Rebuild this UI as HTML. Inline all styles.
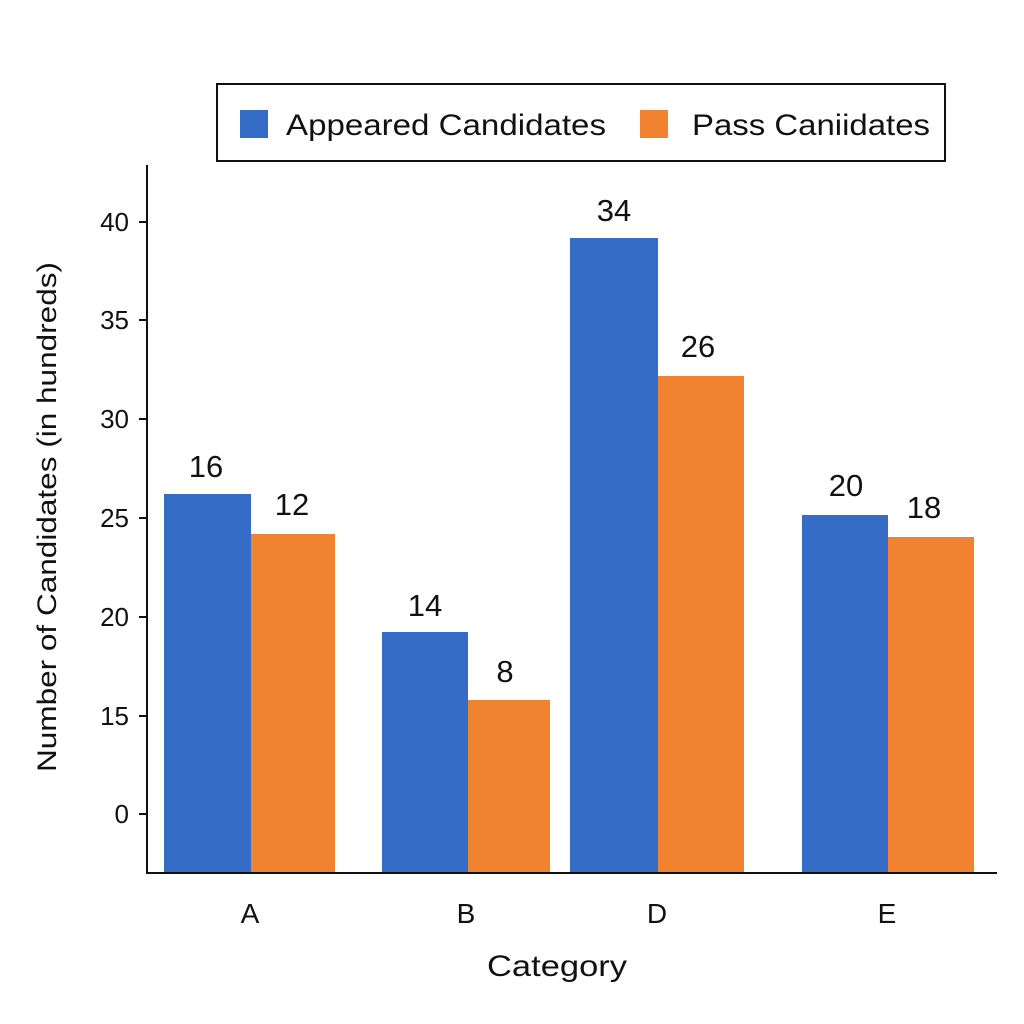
<!DOCTYPE html>
<html><head><meta charset="utf-8"><style>
html,body{margin:0;padding:0;background:#fff;}
svg{display:block;font-family:"Liberation Sans","DejaVu Sans",sans-serif;}
</style></head><body>
<svg width="1024" height="1024" viewBox="0 0 1024 1024" xmlns="http://www.w3.org/2000/svg">
<rect width="1024" height="1024" fill="#fff"/>
<rect x="217" y="84" width="728" height="77" fill="#fff" stroke="#111" stroke-width="2"/>
<rect x="240" y="110" width="28" height="28" fill="#356CC6"/>
<text x="286" y="135" font-size="30" fill="#111" textLength="320" lengthAdjust="spacingAndGlyphs">Appeared Candidates</text>
<rect x="640" y="110" width="28" height="28" fill="#F18230"/>
<text x="692" y="135" font-size="30" fill="#111" textLength="238" lengthAdjust="spacingAndGlyphs">Pass Caniidates</text>
<g fill="#356CC6">
<rect x="164" y="494" width="87" height="379"/>
<rect x="382" y="632" width="86" height="241"/>
<rect x="570" y="238" width="88" height="635"/>
<rect x="802" y="515" width="86" height="358"/>
</g>
<g fill="#F18230">
<rect x="251" y="534" width="84" height="339"/>
<rect x="468" y="700" width="82" height="173"/>
<rect x="658" y="376" width="86" height="497"/>
<rect x="888" y="537" width="86" height="336"/>
</g>
<line x1="147" y1="165" x2="147" y2="874" stroke="#111" stroke-width="2"/>
<line x1="146" y1="873" x2="997" y2="873" stroke="#111" stroke-width="2"/>
<g stroke="#111" stroke-width="2">
<line x1="139" y1="222" x2="147" y2="222"/><line x1="139" y1="320" x2="147" y2="320"/>
<line x1="139" y1="419" x2="147" y2="419"/><line x1="139" y1="518" x2="147" y2="518"/>
<line x1="139" y1="617" x2="147" y2="617"/><line x1="139" y1="716" x2="147" y2="716"/>
<line x1="139" y1="814" x2="147" y2="814"/>
</g>
<g font-size="26" fill="#111" text-anchor="end">
<text x="129" y="231">40</text><text x="129" y="329">35</text><text x="129" y="428">30</text>
<text x="129" y="527">25</text><text x="129" y="626">20</text><text x="129" y="725">15</text>
<text x="129" y="823">0</text>
</g>
<g font-size="31" fill="#111" text-anchor="middle">
<text x="206" y="477">16</text><text x="292" y="515">12</text>
<text x="425" y="616">14</text><text x="505" y="682">8</text>
<text x="614" y="221">34</text><text x="698" y="357">26</text>
<text x="846" y="496">20</text><text x="924" y="518">18</text>
<text x="250" y="923" font-size="28">A</text><text x="466" y="923" font-size="28">B</text>
<text x="657" y="923" font-size="28">D</text><text x="887" y="923" font-size="28">E</text>
</g>
<text x="487" y="976" font-size="30" fill="#111" textLength="140" lengthAdjust="spacingAndGlyphs">Category</text>
<text transform="translate(56,517) rotate(-90)" font-size="27" fill="#111" text-anchor="middle" textLength="510" lengthAdjust="spacingAndGlyphs">Number of Candidates (in hundreds)</text>
</svg>
</body></html>
